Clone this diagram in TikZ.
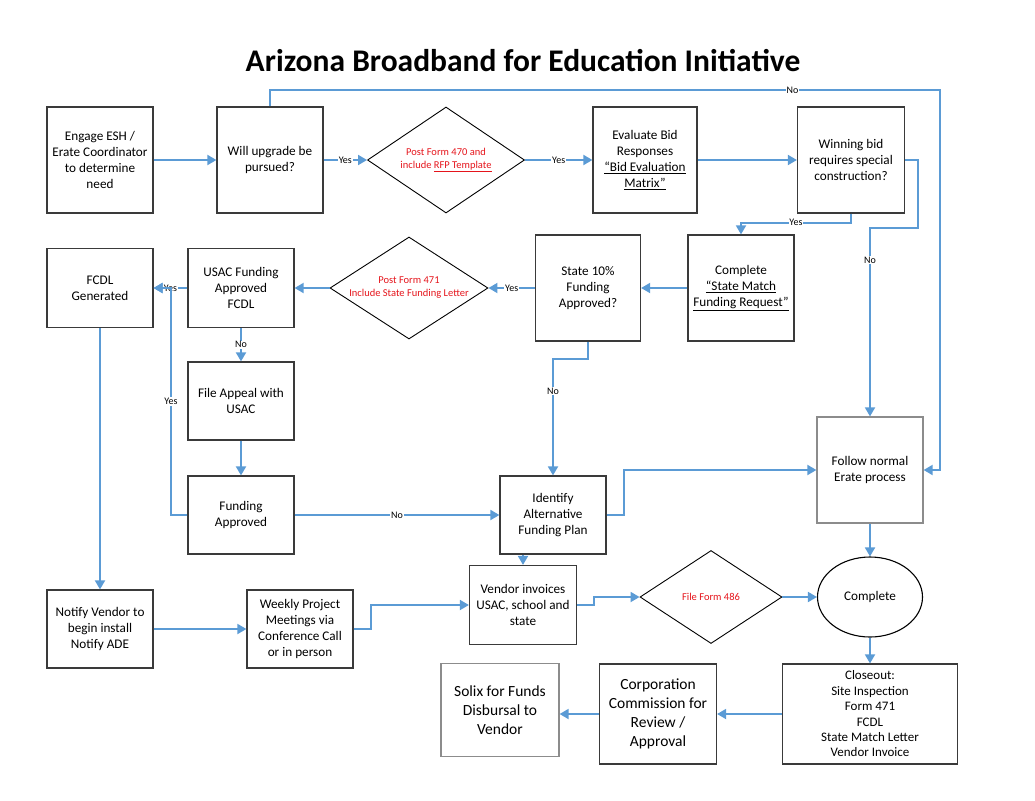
\documentclass[tikz,border=0pt]{standalone}
\usepackage{fontspec}
\setmainfont{Carlito}
\usetikzlibrary{arrows.meta,shapes.geometric}
\definecolor{lnblue}{HTML}{5B9BD5}
\definecolor{bxc}{HTML}{3A3A3A}
\definecolor{bxg}{HTML}{8C8C8C}
\definecolor{rdc}{HTML}{E5141B}
\begin{document}
\begin{tikzpicture}[x=1pt,y=-1pt,
  box/.style={draw=bxc, line width=1.2pt, align=center, inner sep=1pt, text=black,
    font=\fontsize{13.2}{15.8}\selectfont},
  gbox/.style={box, draw=bxg},
  bigtxt/.style={font=\fontsize{15.5}{19}\selectfont},
  dia/.style={diamond, draw=black, line width=0.9pt, inner sep=0pt},
  diatxt/.style={align=center, inner sep=0pt, text=rdc, font=\fontsize{10.5}{13}\selectfont},
  conn/.style={draw=lnblue, line width=1.8pt, -{Triangle[length=9pt,width=10pt]}},
  lab/.style={fill=white, inner sep=0.8pt, text=black, font=\fontsize{10}{11}\selectfont}]
\useasboundingbox (0,0) rectangle (1035,800);

\node[font=\fontsize{31.5}{34}\selectfont\bfseries] (title) at (523,61) {Arizona Broadband for Education Initiative};

% row 1
\node[box, minimum width=106, minimum height=106] (engage) at (100,160) {Engage ESH /\\Erate Coordinator\\to determine\\need};
\node[box, minimum width=106, minimum height=106] (will) at (270,160) {Will upgrade be\\pursued?};
\node[dia, minimum width=157, minimum height=106] (d470) at (446,160) {};
\node[diatxt] (t470) at (d470) {Post Form 470 and\\include \underline{RFP Template}};
\node[box, minimum width=104, minimum height=106] (eval) at (645,160) {Evaluate Bid\\Responses\\\underline{“Bid Evaluation}\\\underline{Matrix”}};
\node[box, minimum width=107, minimum height=106] (win) at (851,160) {Winning bid\\requires special\\construction?};

% row 2
\node[box, minimum width=106, minimum height=79] (fcdl) at (100,288) {FCDL\\Generated};
\node[box, minimum width=106, minimum height=79] (usac) at (241,288) {USAC Funding\\Approved\\FCDL};
\node[dia, minimum width=158, minimum height=102] (d471) at (409,288) {};
\node[diatxt] (t471) at (d471) {Post Form 471\\Include State Funding Letter};
\node[box, minimum width=105, minimum height=106] (state) at (588,288) {State 10\%\\Funding\\Approved?};
\node[box, minimum width=106, minimum height=106] (cmpl) at (741,288) {Complete\\\underline{“State Match}\\\underline{Funding Request”}};

% middle
\node[box, minimum width=106, minimum height=78] (appeal) at (241,401) {File Appeal with\\USAC};
\node[box, minimum width=106, minimum height=78] (fundapp) at (241,515) {Funding\\Approved};
\node[box, minimum width=106, minimum height=78] (ident) at (553,515) {Identify\\Alternative\\Funding Plan};
\node[gbox, minimum width=106, minimum height=106] (follow) at (870,470) {Follow normal\\Erate process};

% lower
\node[box, minimum width=106, minimum height=78] (notify) at (100,629) {Notify Vendor to\\begin install\\Notify ADE};
\node[box, minimum width=106, minimum height=78] (weekly) at (300,629) {Weekly Project\\Meetings via\\Conference Call\\or in person};
\node[box, minimum width=107, minimum height=79] (vendor) at (523,605) {Vendor invoices\\USAC, school and\\state};
\node[dia, minimum width=142, minimum height=93] (d486) at (711,597) {};
\node[diatxt] (t486) at (d486) {File Form 486};
\node[ellipse, draw=black, line width=1.1pt, minimum width=105, minimum height=80, inner sep=0pt,
  font=\fontsize{13.2}{16}\selectfont] (done) at (870,597) {Complete};

% bottom
\node[box, minimum width=175, minimum height=100, font=\fontsize{13}{15.4}\selectfont] (close) at (870,714) {Closeout:\\Site Inspection\\Form 471\\FCDL\\State Match Letter\\Vendor Invoice};
\node[box, bigtxt, minimum width=117, minimum height=100] (corp) at (658,714) {Corporation\\Commission for\\Review /\\Approval};
\node[gbox, bigtxt, minimum width=118, minimum height=93] (solix) at (500,710) {Solix for Funds\\Disbursal to\\Vendor};

% connectors
\draw[conn] (engage) -- (will);
\draw[conn] (will) -- node[lab]{Yes} (d470);
\draw[conn] (d470) -- node[lab]{Yes} (eval);
\draw[conn] (eval) -- (win);
\draw[conn] (win.south) -- ++(0,9) -| node[lab,pos=0.25]{Yes} (cmpl.north);
\draw[conn] (win.east) -- ++(13,0) -- ++(0,68) -| node[lab,pos=0.585]{No} (follow.north);
\coordinate (tl) at (270,90);
\coordinate (tr) at (940,90);
\draw[conn] (will.north) -- (tl) -- node[lab,pos=0.78]{No} (tr) -- (tr |- follow.east) -- (follow.east);

\draw[conn] (cmpl) -- (state);
\draw[conn] (state) -- node[lab]{Yes} (d471);
\draw[conn] (d471) -- (usac);
\draw[conn] (usac) -- node[lab]{Yes} (fcdl);
\coordinate (yb) at (171,515);
\coordinate (yt) at (171,288);
\draw[conn] (fundapp.west) -- (yb) -- node[lab]{Yes} (yt) -- (fcdl.east);
\draw[conn] (usac) -- node[lab]{No} (appeal);
\draw[conn] (appeal) -- (fundapp);
\draw[conn] (fundapp) -- node[lab]{No} (ident);
\draw[conn] (state.south) -- ++(0,17) -| node[lab,pos=0.64]{No} (ident.north);
\draw[conn] (ident.east) -- ++(17,0) |- (follow.west);
\draw[conn] (vendor.north |- ident.south) -- (vendor.north);
\draw[conn] (follow) -- (done);

\draw[conn] (fcdl) -- (notify);
\draw[conn] (notify) -- (weekly);
\draw[conn] (weekly.east) -- ++(17,0) |- (vendor.west);
\draw[conn] (vendor.east) -- ++(17,0) |- (d486.west);
\draw[conn] (d486) -- (done);
\draw[conn] (done) -- (close);
\draw[conn] (close) -- (corp);
\draw[conn] (corp.west) -- (solix.east |- corp.west);
\end{tikzpicture}
\end{document}
